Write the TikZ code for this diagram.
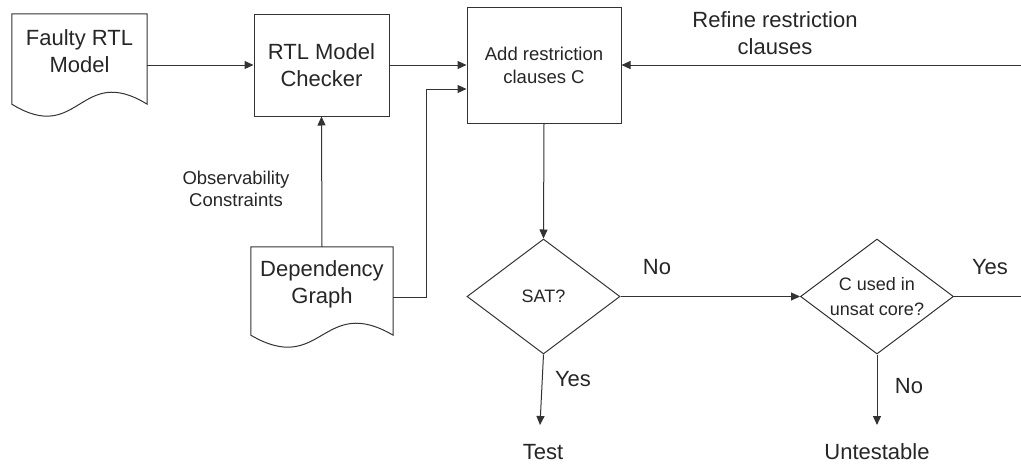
\documentclass[tikz,border=0pt]{standalone}
\usepackage{fontspec}
\setmainfont{Liberation Sans}
\usetikzlibrary{arrows.meta,shapes.geometric,calc}
\begin{document}
\begin{tikzpicture}[x=1pt,y=-1pt,
  ink/.style={draw=black!80, line width=1pt},
  arr/.style={ink, -{Triangle[length=9pt,width=8pt]}},
  big/.style={font=\fontsize{22}{27}\selectfont, text=black!85, align=center, inner sep=0pt},
  small/.style={font=\fontsize{18.5}{23}\selectfont, text=black!85, align=center, inner sep=0pt},
  procbox/.style={ink, rectangle, inner sep=0pt},
  docarea/.style={rectangle, inner sep=0pt},
  decision/.style={ink, diamond, aspect=1.33, inner sep=0pt,
    minimum width=153pt, minimum height=115pt,
    font=\fontsize{18}{25}\selectfont, text=black!85, align=center},
]
\useasboundingbox (0,0) rectangle (1021,466);

% document shapes (flat top, wavy bottom)
\node[docarea, minimum width=135pt, minimum height=90pt] (faulty) at (79.5,59) {};
\draw[ink] (faulty.north west) -- (faulty.north east) -- (faulty.south east)
  .. controls ([yshift=41.5pt]faulty.south) and ([yshift=-41.5pt]faulty.south) .. (faulty.south west) -- cycle;
\node[big] (faultytxt) at (79.5,51.5) {Faulty RTL\\Model};

\node[docarea, minimum width=142pt, minimum height=88pt] (dep) at (322,291) {};
\draw[ink] (dep.north west) -- (dep.north east) -- (dep.south east)
  .. controls ([yshift=41.5pt]dep.south) and ([yshift=-41.5pt]dep.south) .. (dep.south west) -- cycle;
\node[big] (deptxt) at (322,284.5) {Dependency\\Graph};

% process boxes
\node[procbox, big, minimum width=135pt, minimum height=102pt] (rtl) at (321.5,65) {RTL Model\\Checker};
\node[procbox, small, minimum width=154pt, minimum height=116pt] (add) at (544,65) {Add restriction\\clauses C};

% decisions
\node[decision] (sat) at (543.5,296.5) {SAT?};
\node[decision] (cu) at (877,296.5) {C used in\\unsat core?};

% outcomes
\node[big] (test) at (543,452) {Test};
\node[big] (untest) at (877,452) {Untestable};

% free labels
\node[big] (refine) at (775,33) {Refine restriction\\clauses};
\node[small, font=\fontsize{18.5}{22}\selectfont] (obs) at (236,189) {Observability\\Constraints};
\node[big] (no1) at (657,267) {No};
\node[big] (yes1) at (573,379) {Yes};
\node[big] (yes2) at (990,267) {Yes};
\node[big] (no2) at (909,386) {No};

% connectors
\coordinate (dh) at (0,297);
\coordinate (bend) at (426,89);
\coordinate (rin) at (1021,65);
\coordinate (yout) at (1021,296.5);
\coordinate (testin) at (540,425);
\coordinate (untestin) at (877,425);

\draw[arr] (faulty.east |- rtl.west) -- (rtl.west);
\draw[arr] (rtl.east) -- (add.west);
\draw[arr] (dep.north) -- (rtl.south);
\draw[arr] (dep.east |- dh) -| (bend) -- (add.west |- bend);
\draw[arr] (rin) -- (add.east);
\draw[arr] (add.south) -- (sat.north);
\draw[arr] (sat.east) -- (cu.west);
\draw[arr] (sat.south) -- (testin);
\draw[ink] (cu.east) -- (yout);
\draw[arr] (cu.south) -- (untestin);
\end{tikzpicture}
\end{document}
